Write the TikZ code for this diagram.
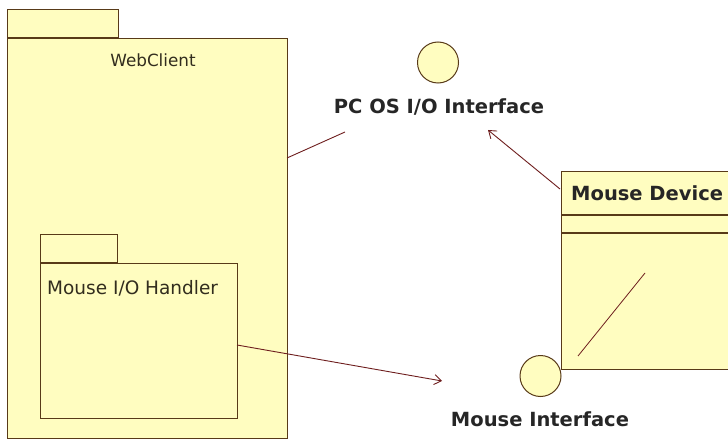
\documentclass[tikz,border=0pt]{standalone}
\usepackage{fontspec}
\setmainfont{DejaVu Sans}
\usetikzlibrary{arrows.meta}
\definecolor{umlfill}{RGB}{255,253,192}
\definecolor{umlline}{RGB}{88,58,24}
\definecolor{umltext}{RGB}{50,45,30}
\definecolor{linkcol}{RGB}{110,30,30}
\tikzset{
  pkg/.style={draw=umlline, fill=umlfill, line width=1.3pt, inner sep=0pt, anchor=north west},
  iface/.style={circle, draw=umlline, fill=umlfill, line width=1pt, inner sep=0pt},
  pkglabel/.style={text=umltext, inner sep=0pt},
  boldlabel/.style={font=\fontsize{19.5}{22}\selectfont\bfseries, text=black!85, inner sep=0pt},
  link/.style={draw=linkcol, line width=0.9pt},
  dep/.style={link, -{Straight Barb[length=7pt,width=10pt]}}
}
\begin{document}
\begin{tikzpicture}[x=1pt,y=-1pt]
\useasboundingbox (0,0) rectangle (728,441);
\clip (0,0) rectangle (728,441);
% WebClient package
\node[pkg, minimum width=280pt, minimum height=400pt] (web) at (7,38) {};
\node[pkg, anchor=south west, minimum width=111pt, minimum height=28pt] (webtab) at (web.north west) {};
\node[pkglabel, font=\fontsize{16.8}{19}\selectfont] (weblbl) at (153,60) {WebClient};
% Mouse I/O Handler package
\node[pkg, minimum width=197pt, minimum height=155pt] (mio) at (40,263) {};
\node[pkg, anchor=south west, minimum width=77pt, minimum height=28pt] (miotab) at (mio.north west) {};
\node[pkglabel, font=\fontsize{18.5}{21}\selectfont, anchor=west] (miolbl) at (47,288) {Mouse I/O Handler};
% Mouse Device class
\node[pkg, minimum width=190pt, minimum height=198pt] (mdev) at (561,171) {};
\draw[umlline, line width=1.3pt] (561,215) -- (751,215);
\draw[umlline, line width=1.3pt] (561,233) -- (751,233);
\node[boldlabel, anchor=west] (mdevlbl) at (571,193) {Mouse Device};
\coordinate (d1) at (578,356);
\coordinate (d2) at (645,273);
\draw[linkcol, line width=0.8pt] (d1) -- (d2);
% Interfaces
\node[iface, minimum size=41pt] (pcos) at (438,62.5) {};
\node[boldlabel] (pcoslbl) at (439,107) {PC OS I/O Interface};
\node[iface, minimum size=41pt] (mif) at (540.5,376) {};
\node[boldlabel] (miflbl) at (540,419) {Mouse Interface};
% Connectors
\coordinate (w1) at (287,158);
\coordinate (w2) at (345,132);
\draw[link] (w1) -- (w2);
\coordinate (m1) at (560,189);
\coordinate (m2) at (488,130);
\draw[dep] (m1) -- (m2);
\coordinate (h1) at (237,345);
\coordinate (h2) at (442,381);
\draw[dep] (h1) -- (h2);
\end{tikzpicture}
\end{document}
